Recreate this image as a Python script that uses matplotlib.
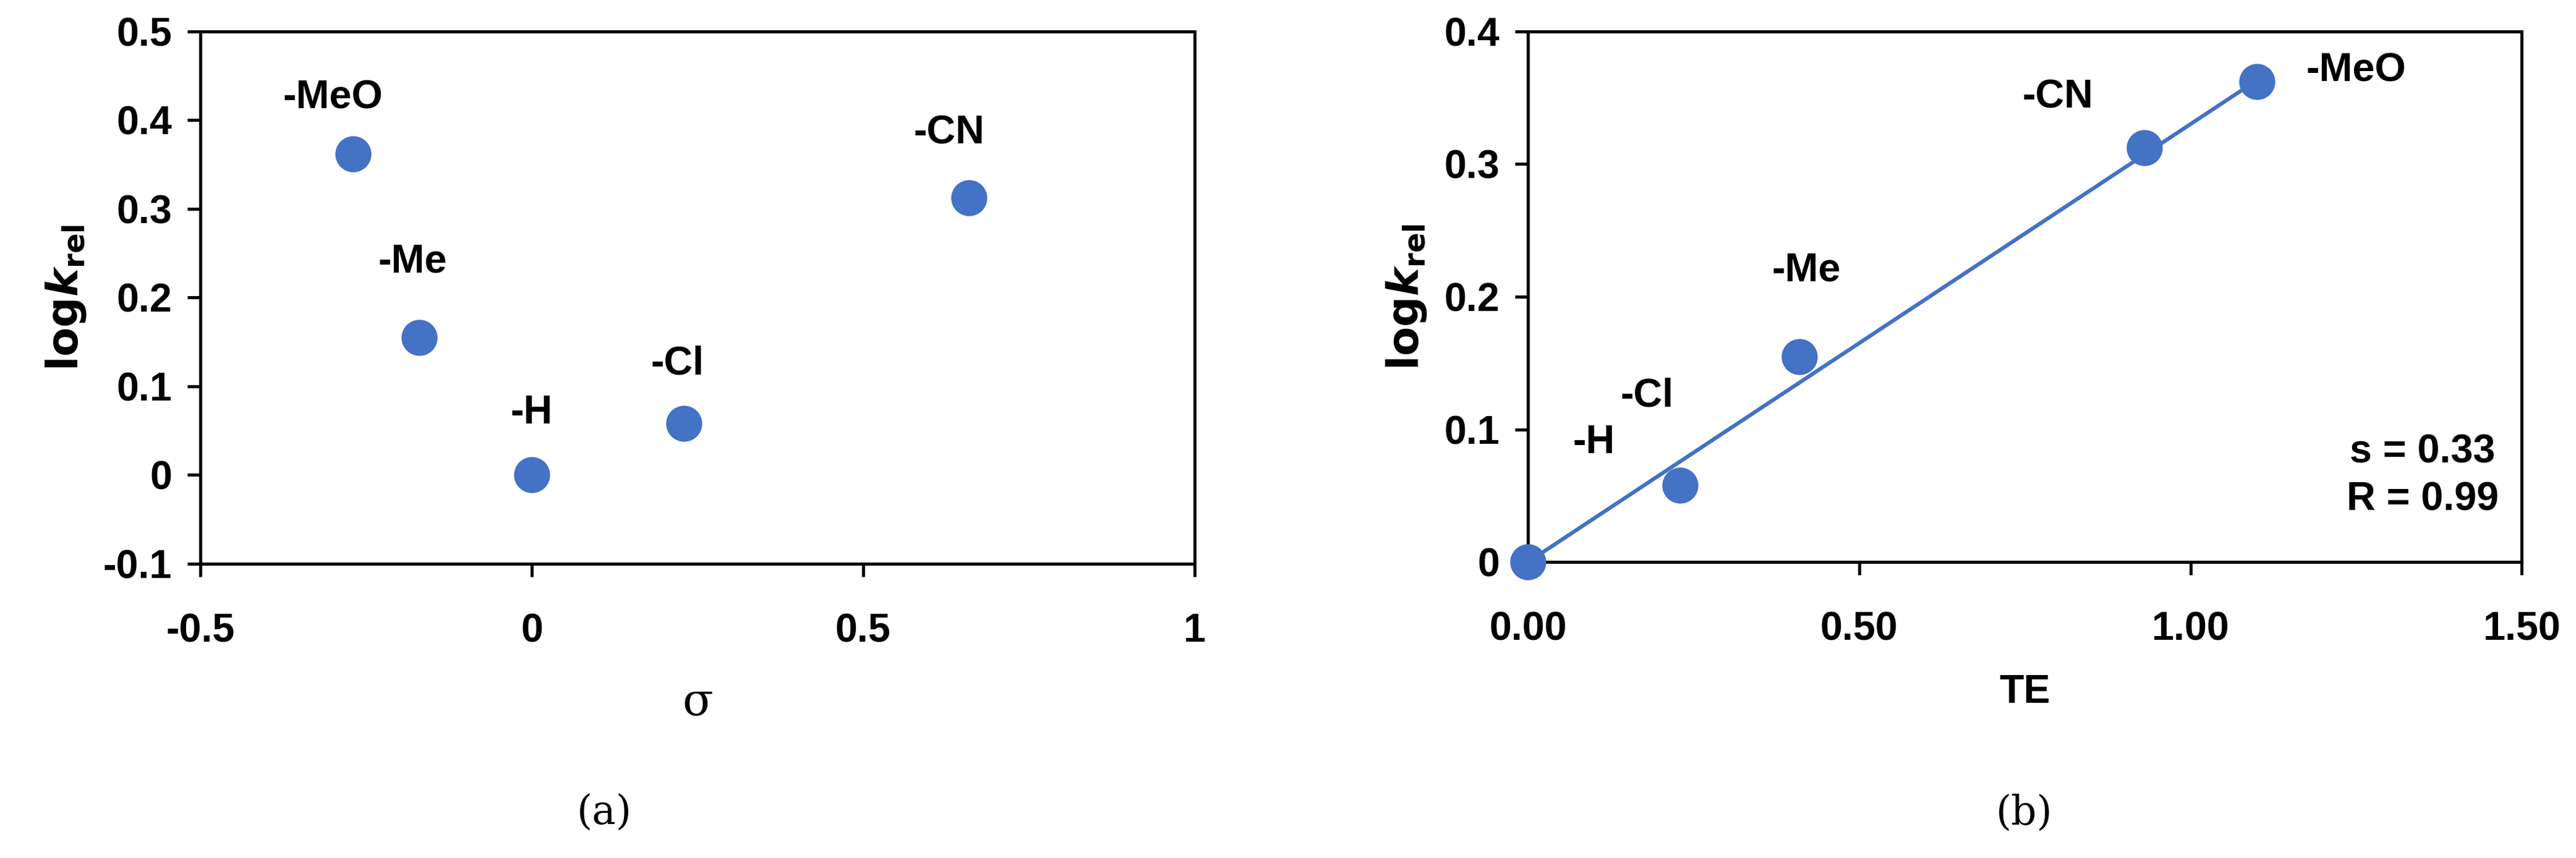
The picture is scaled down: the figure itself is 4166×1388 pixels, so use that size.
import matplotlib
matplotlib.use('Agg')
import matplotlib.pyplot as plt
import numpy as np

labels = ['-MeO', '-Me', '-H', '-Cl', '-CN']
sigma = [-0.27, -0.17, 0.0, 0.23, 0.66]
te = [1.10, 0.41, 0.0, 0.23, 0.93]
logk = [0.362, 0.155, 0.0, 0.058, 0.312]
slope = 0.33

blue = '#4472C4'
plt.rcParams['font.family'] = ['Liberation Sans', 'DejaVu Sans']

W, H = 1568.0, 522.0
fig = plt.figure(figsize=(4166 / 300, 1388 / 300), dpi=300)
ax1 = fig.add_axes([122 / W, 1 - 343 / H, (727 - 122) / W, (343 - 19) / H])
ax2 = fig.add_axes([930 / W, 1 - 342 / H, (1535 - 930) / W, (342 - 19) / H])

fs = 15.5
# panel a: label centres relative to points
offs_a = [(-0.03, 0.063), (-0.01, 0.085), (0.0, 0.07), (-0.01, 0.067), (-0.03, 0.073)]
ax1.plot(sigma, logk, 'o', color=blue, ms=13, zorder=3)
for lab, x, y, (dx, dy) in zip(labels, sigma, logk, offs_a):
    ax1.text(x + dx, y + dy, lab, ha='center', va='center', fontsize=fs, fontweight='bold')
ax1.set_xlim(-0.5, 1)
ax1.set_ylim(-0.1, 0.5)
ax1.set_xticks([-0.5, 0, 0.5, 1])
ax1.set_xticklabels(['-0.5', '0', '0.5', '1'])
ax1.set_yticks(np.arange(-0.1, 0.51, 0.1))
ax1.set_yticklabels(['-0.1', '0', '0.1', '0.2', '0.3', '0.4', '0.5'])
ax1.set_xlabel('σ', fontsize=fs + 2, family='DejaVu Serif', labelpad=12)

# panel b
offs_b = [(0.15, 0.008), (0.01, 0.065), (0.1, 0.09), (-0.05, 0.067), (-0.13, 0.038)]
xs = np.array([0.0, max(te)])
ax2.plot(xs, slope * xs, '-', color=blue, lw=1.5, zorder=2)
ax2.plot(te, logk, 'o', color=blue, ms=13, zorder=3, clip_on=False)
for lab, x, y, (dx, dy) in zip(labels, te, logk, offs_b):
    ax2.text(x + dx, y + dy, lab, ha='center', va='center', fontsize=fs, fontweight='bold')
ax2.text(1.35, 0.083, 's = 0.33', ha='center', va='center', fontsize=fs, fontweight='bold')
ax2.text(1.35, 0.047, 'R = 0.99', ha='center', va='center', fontsize=fs, fontweight='bold')
ax2.set_xlim(0, 1.5)
ax2.set_ylim(0, 0.4)
ax2.set_xticks([0, 0.5, 1.0, 1.5])
ax2.set_xticklabels(['0.00', '0.50', '1.00', '1.50'])
ax2.set_yticks([0, 0.1, 0.2, 0.3, 0.4])
ax2.set_yticklabels(['0', '0.1', '0.2', '0.3', '0.4'])
ax2.set_xlabel('TE', fontsize=fs, fontweight='bold', labelpad=10)

for ax in (ax1, ax2):
    for sp in ax.spines.values():
        sp.set_linewidth(1.2)
    ax.tick_params(labelsize=fs, direction='out', length=5, width=1.2)
    ax.tick_params(axis='x', pad=14)
    ax.tick_params(axis='y', pad=6)
    for t in ax.get_xticklabels() + ax.get_yticklabels():
        t.set_fontweight('bold')
    ax.set_ylabel(r'$\mathbf{log}\boldsymbol{k}_{\mathbf{rel}}$', fontsize=fs + 1, labelpad=6)

fig.text(368 / W, 1 - 495 / H, '(a)', ha='center', va='center', fontsize=fs, family='DejaVu Serif')
fig.text(1232 / W, 1 - 495 / H, '(b)', ha='center', va='center', fontsize=fs, family='DejaVu Serif')

fig.savefig('out.png', dpi=300)
